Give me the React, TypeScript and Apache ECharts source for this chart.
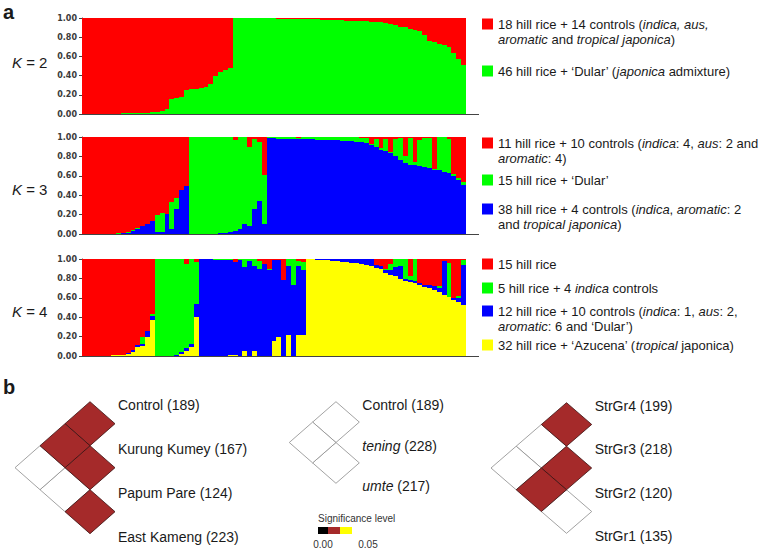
import React, { useEffect, useRef } from 'react';
import * as echarts from 'echarts';

// ---------------- data ----------------
const individuals: string[] = Array.from({ length: 79 }, (_, i) => String(i + 1));
const yTicks = [0, 0.2, 0.4, 0.6, 0.8, 1.0];

// K = 2 (bottom -> top: green, red)
const k2Green = [0, 0, 0, 0, 0,
  0.003, 0.005, 0.005, 0.006, 0.008,
  0.01, 0.01, 0.012, 0.015, 0.02,
  0.025, 0.035, 0.05,
  0.16, 0.165, 0.18,
  0.25, 0.26, 0.26, 0.27, 0.28,
  0.31, 0.40, 0.44, 0.46, 0.48,
  1, 1, 1, 1, 1, 0.998, 0.997,
  0.995, 0.995, 0.993, 0.992, 0.99, 0.99, 0.99, 0.988, 0.987, 0.985, 0.985, 0.983, 0.982, 0.98,
  0.978, 0.975, 0.973, 0.97, 0.97, 0.968, 0.965, 0.962,
  0.96, 0.955, 0.95, 0.94, 0.93,
  0.91, 0.905, 0.89, 0.88, 0.86,
  0.82, 0.76, 0.75, 0.73, 0.72,
  0.70, 0.64, 0.57, 0.51];
const k2Red = [1, 1, 1, 1, 1,
  0.997, 0.995, 0.995, 0.994, 0.992,
  0.99, 0.99, 0.988, 0.985, 0.98,
  0.975, 0.965, 0.95,
  0.84, 0.835, 0.82,
  0.75, 0.74, 0.74, 0.73, 0.72,
  0.69, 0.60, 0.56, 0.54, 0.52,
  0, 0, 0, 0, 0, 0.002, 0.003,
  0.005, 0.005, 0.007, 0.008, 0.01, 0.01, 0.01, 0.012, 0.013, 0.015, 0.015, 0.017, 0.018, 0.02,
  0.022, 0.025, 0.027, 0.03, 0.03, 0.032, 0.035, 0.038,
  0.04, 0.045, 0.05, 0.06, 0.07,
  0.09, 0.095, 0.11, 0.12, 0.14,
  0.18, 0.24, 0.25, 0.27, 0.28,
  0.30, 0.36, 0.43, 0.49];

// K = 3 (bottom -> top: blue, green, red)
const k3Blue = [0, 0, 0, 0, 0, 0, 0, .003, .008, .015, .03, .05, .08, .10, .13, .02, .02, .21, .05, .26, .45, .49,
  .003, .003, .003, .004, .005, .005, .01, .015, .02, .03, .05, .10, .08, .26, .34, .10,
  .986, .985, .983, .982, .981, .98, .98, .979, .978, .976, .974, .972, .969, .967, .964, .961, .958, .955, .95, .945,
  .938, .92, .897, .869, .852, .835, .80, .766, .73, .715, .711, .704, .69, .68, .663, .656, .643, .63, .595, .56, .51];
const k3Green = [0, 0, 0, 0, 0, .005, .005, .005, .005, .005, .01, .01, .005, 0, 0, .18, .20, 0, .28, .11, 0, 0,
  .997, .997, .997, .996, .995, .995, .99, .985, .98, .94, .95, .90, .82, .72, .61, .51,
  .014, .015, .015, .015, .015, .015, .012, .016, .017, .019, .021, .023, .026, .028, .032, .036, .039, .043, .048, .045,
  .052, .01, .083, .021, .128, .015, .18, .224, .07, .275, .029, .266, .30, .31, .007, .344, .357, .35, .025, .02, .03];
const k3Red = [1, 1, 1, 1, 1, .995, .995, .992, .987, .98, .96, .94, .915, .90, .87, .80, .78, .79, .67, .63, .55, .51,
  0, 0, 0, 0, 0, 0, 0, 0, 0, .03, 0, 0, .10, .02, .05, .39,
  0, 0, .002, .003, .004, .005, .008, .005, .005, .005, .005, .005, .005, .005, .004, .003, .003, .002, .002, .01,
  .01, .07, .02, .11, .02, .15, .02, .01, .2, .01, .26, .03, .01, .01, .33, 0, 0, .02, .38, .42, .46];

// K = 4 (bottom -> top: yellow, blue, green, red)
const k4Yellow = [0, 0, 0, 0, 0, .005, .007, .01, .01, .02, .04, .09, .10, .2, .37,
  0, 0, 0, 0, 0, .02, .05, .09, .40,
  0, 0, 0, 0, 0, 0, .01, .015, 0, .055, 0, .05, 0, 0, 0, .15, .2, 0, .22, 0, .22, .22,
  .995, .995, .99, .99, .985, .98, .975, .97, .965, .96, .955, .95, .94, .93,
  .91, .90, .86, .84, .82, .79, .77, .76, .75, .73, .71, .70, .68, .66, .63, .61, .58, .56, .53];
const k4Blue = [0, 0, 0, 0, 0, 0, 0, 0, .005, .01, .02, .02, .02, .06, .04,
  0, 0, .003, .005, .01, .02, .03, .03, .14,
  1, 1, .995, .99, .99, .99, .98, .955, .99, .865, .98, .88, .9, .95, .89, .84, .79, .78, .71, .73, .71, .67,
  .005, .005, .01, .01, .015, .02, .025, .03, .035, .04, .045, .05, .06, .07,
  .03, .03, .03, .05, .10, .14, .02, .02, .02, .02, .02, .03, .04, .04, .35, 0, .02, .04, .41];
const k4Green = [0, 0, 0, 0, 0, 0, 0, 0, 0, 0, 0, 0, .08, 0, .02,
  1, 1, .997, .995, .99, .96, .87, .88, .43,
  0, 0, .005, .01, .01, .01, .01, 0, .01, .08, .02, .07, .08, 0, .01, 0, 0, 0, .07, .27, .05, .08,
  0, 0, 0, 0, 0, 0, 0, 0, 0, 0, 0, 0, 0, 0,
  0, 0, .01, .06, .08, .07, .21, .04, .23, 0, 0, 0, 0, .02, 0, .35, 0, .02, .05];
const k4Red = [1, 1, 1, 1, 1, .995, .993, .99, .985, .97, .94, .89, .80, .74, .57,
  0, 0, 0, 0, 0, 0, .05, 0, .03,
  0, 0, 0, 0, 0, 0, 0, .03, 0, 0, 0, 0, .02, .05, .1, .01, .01, .22, 0, 0, .02, .03,
  0, 0, 0, 0, 0, 0, 0, 0, 0, 0, 0, 0, 0, 0,
  .06, .07, .10, .05, 0, 0, 0, .18, 0, .25, .27, .27, .28, .28, .02, .04, .40, .38, .01];

// legend texts ({i|...} = italic)
const k2Legend = [
  ['18 hill rice + 14 controls ({i|indica, aus,}', '{i|aromatic} and {i|tropical japonica})'],
  ['46 hill rice + \u2018Dular\u2019 ({i|japonica} admixture)'],
];
const k3Legend = [
  ['11 hill rice + 10 controls ({i|indica}: 4, {i|aus}: 2 and', '{i|aromatic}: 4)'],
  ['15 hill rice + \u2018Dular\u2019'],
  ['38 hill rice + 4 controls ({i|indica}, {i|aromatic}: 2', 'and {i|tropical japonica})'],
];
const k4Legend = [
  ['15 hill rice'],
  ['5 hill rice + 4 {i|indica} controls'],
  ['12 hill rice + 10 controls ({i|indica}: 1, {i|aus}: 2,', '{i|aromatic}: 6 and \u2018Dular\u2019)'],
  ['32 hill rice + \u2018Azucena\u2019 ({i|tropical} japonica)'],
];

// pairwise differentiation matrices: [popA, popB, level] ; level 0 = n.s., 2 = significant
const m1Labels = ['Control (189)', 'Kurung Kumey (167)', 'Papum Pare (124)', 'East Kameng (223)'];
const m1Cells = [[0, 1, 2], [1, 2, 2], [2, 3, 2], [0, 2, 2], [1, 3, 0], [0, 3, 0]];
const m2Labels = ['Control (189)', '{i|tening} (228)', '{i|umte} (217)'];
const m2Cells = [[0, 1, 0], [1, 2, 0], [0, 2, 0]];
const m3Labels = ['StrGr4 (199)', 'StrGr3 (218)', 'StrGr2 (120)', 'StrGr1 (135)'];
const m3Cells = [[0, 1, 2], [1, 2, 2], [2, 3, 0], [0, 2, 0], [1, 3, 2], [0, 3, 0]];
const sigScaleLabels = ['0.00', '0.05'];

// ---------------- styles ----------------
const FONT = "'Liberation Sans', Arial, sans-serif";
const RED = '#ff0000', GREEN = '#00ff00', BLUE = '#0000ff', YELLOW = '#ffff00';
const SIG_COLORS = ['#ffffff', '#000000', '#a52a2a', '#ffff00'];

// stacked membership bars drawn through the axes (pixel-snapped so neighbours share edges)
function stackSeries(components: number[][], colors: string[], idx: number) {
  const cum = new Array(individuals.length).fill(0);
  return components.map((vals, k) => {
    const data: number[][] = [];
    vals.forEach((v, i) => {
      if (v > 0) data.push([i, cum[i], cum[i] + v]);
      cum[i] += v;
    });
    const color = colors[k];
    return {
      type: 'custom', xAxisIndex: idx, yAxisIndex: idx, silent: true,
      encode: { x: 0, y: [1, 2] }, data,
      renderItem: (_p: any, api: any) => {
        const i = api.value(0), lo = api.value(1), hi = Math.min(api.value(2), 1);
        const bw = api.size([1, 0])[0];
        const cx = api.coord([i, 0])[0];
        const x0 = Math.round(cx - bw / 2), x1 = Math.round(cx + bw / 2);
        const y0 = Math.round(api.coord([i, hi])[1]), y1 = Math.round(api.coord([i, lo])[1]);
        if (y1 <= y0 || x1 <= x0) return null;
        return { type: 'rect', shape: { x: x0, y: y0, width: x1 - x0, height: y1 - y0 }, style: { fill: color } };
      },
    };
  });
}

function cellSeries(cells: number[][], idx: number) {
  const sorted = [...cells].sort((a, b) => a[2] - b[2]);
  return {
    type: 'custom', xAxisIndex: idx, yAxisIndex: idx, silent: true, clip: false,
    encode: { x: 0, y: 1 },
    data: sorted.map(([i, j, lvl]) => [1 - (j - i), (i + j) / 2, lvl]),
    renderItem: (_p: any, api: any) => {
      const x = api.value(0), y = api.value(1), lvl = api.value(2);
      const pts = [[x + 1, y], [x, y - 0.5], [x - 1, y], [x, y + 0.5]].map(p => api.coord(p));
      return {
        type: 'polygon', shape: { points: pts },
        style: { fill: SIG_COLORS[lvl], stroke: lvl ? '#3a1010' : '#8a8a8a', lineWidth: 0.8 },
      };
    },
  };
}

const structGrids = [
  { left: 82, top: 18, width: 384, height: 96 },
  { left: 82, top: 137, width: 384, height: 97 },
  { left: 82, top: 259, width: 384, height: 97 },
];
const matGrids = [
  { left: 15, top: 401.7, width: 100, height: 132, xmin: -3, ymax: 3 },
  { left: 289.3, top: 401.7, width: 70, height: 81.6, xmin: -2, ymax: 2 },
  { left: 491, top: 402.7, width: 100.7, height: 130.6, xmin: -3, ymax: 3 },
];

function textEl(x: number, y: number, text: string, size: number, extra: any = {}) {
  return {
    type: 'text', x, y, silent: true,
    style: {
      text, fontSize: size, fontFamily: FONT, fill: '#1a1a1a',
      align: 'left', textAlign: 'left', verticalAlign: 'middle', textVerticalAlign: 'middle',
      rich: { i: { fontStyle: 'italic', fontSize: size, fontFamily: FONT, fill: '#1a1a1a', color: '#1a1a1a' } },
      ...extra,
    },
  };
}

function legendEls(entries: string[][], colors: string[], ys: number[]) {
  const out: any[] = [];
  entries.forEach((lines, k) => {
    out.push({ type: 'rect', silent: true, shape: { x: 482, y: ys[k] - 5.5, width: 11, height: 11 }, style: { fill: colors[k] } });
    out.push(textEl(498, ys[k] - 7.5, lines.join('\n'), 13, {
      verticalAlign: 'top', textVerticalAlign: 'top', lineHeight: 15,
      rich: { i: { fontStyle: 'italic', fontSize: 13, fontFamily: FONT, fill: '#1a1a1a', lineHeight: 15 } },
    }));
  });
  return out;
}

export default function App() {
  const ref = useRef<HTMLDivElement>(null);
  useEffect(() => {
    if (!ref.current) return;
    const chart = echarts.init(ref.current, undefined, { renderer: 'svg' });

    const grid: any[] = [
      ...structGrids.map(g => ({ ...g, containLabel: false })),
      ...matGrids.map(g => ({ left: g.left, top: g.top, width: g.width, height: g.height })),
    ];
    const xAxis: any[] = [
      ...structGrids.map((_, i) => ({
        type: 'category', gridIndex: i, data: individuals,
        axisLine: { show: true, lineStyle: { color: '#444', width: 1 } },
        axisTick: { show: false }, axisLabel: { show: false }, splitLine: { show: false },
      })),
      ...matGrids.map((g, i) => ({ type: 'value', gridIndex: 3 + i, min: g.xmin, max: 1, show: false })),
    ];
    const matLabelSets = [m1Labels, m2Labels, m3Labels];
    const yAxis: any[] = [
      ...structGrids.map((_, i) => ({
        type: 'value', gridIndex: i, min: yTicks[0], max: yTicks[yTicks.length - 1], interval: 0.2,
        axisLine: { show: true, lineStyle: { color: '#444', width: 1 } },
        axisTick: { show: true, length: 3, lineStyle: { color: '#444' } },
        splitLine: { show: false },
        axisLabel: {
          formatter: (v: number) => v.toFixed(2), margin: 5, fontSize: 8, fontWeight: 'bold',
          fontFamily: "'DejaVu Sans', sans-serif", color: '#3a3a3a',
        },
      })),
      ...matGrids.map((g, i) => ({
        type: 'value', gridIndex: 3 + i, min: 0, max: g.ymax, interval: 1, inverse: true, position: 'right',
        axisLine: { show: false }, axisTick: { show: false }, splitLine: { show: false },
        axisLabel: {
          formatter: (v: number) => matLabelSets[i][Math.round(v)] ?? '', margin: 3, fontSize: 14,
          fontFamily: FONT, color: '#1a1a1a', padding: [6, 0, 0, 0],
          rich: { i: { fontStyle: 'italic', fontSize: 14, fontFamily: FONT, color: '#1a1a1a' } },
        },
      })),
    ];

    const series: any[] = [
      ...stackSeries([k2Green, k2Red], [GREEN, RED], 0),
      ...stackSeries([k3Blue, k3Green, k3Red], [BLUE, GREEN, RED], 1),
      ...stackSeries([k4Yellow, k4Blue, k4Green, k4Red], [YELLOW, BLUE, GREEN, RED], 2),
      cellSeries(m1Cells, 3), cellSeries(m2Cells, 4), cellSeries(m3Cells, 5),
    ];

    const graphic: any[] = [
      textEl(3, 12, 'a', 20, { fontWeight: 'bold' }),
      textEl(3, 387, 'b', 20, { fontWeight: 'bold' }),
      textEl(12, 62, '{i|K} = 2', 15),
      textEl(12, 189, '{i|K} = 3', 15),
      textEl(12, 311, '{i|K} = 4', 15),
      ...structGrids.map(g => ({
        type: 'line', silent: true,
        shape: { x1: g.left + g.width, y1: g.top + g.height + 0.5, x2: g.left + g.width + 13, y2: g.top + g.height + 0.5 },
        style: { stroke: '#444', lineWidth: 1 },
      })),
      ...legendEls(k2Legend, [RED, GREEN], [24, 71]),
      ...legendEls(k3Legend, [RED, GREEN, BLUE], [143, 180, 209]),
      ...legendEls(k4Legend, [RED, GREEN, BLUE, YELLOW], [264, 288, 311, 345]),
      textEl(318, 518, 'Significance level', 10, { fill: '#333' }),
      { type: 'rect', silent: true, shape: { x: 318, y: 527, width: 10, height: 7 }, style: { fill: SIG_COLORS[1] } },
      { type: 'rect', silent: true, shape: { x: 328, y: 527, width: 12, height: 7 }, style: { fill: SIG_COLORS[2] } },
      { type: 'rect', silent: true, shape: { x: 340, y: 527, width: 12, height: 7 }, style: { fill: SIG_COLORS[3] } },
      textEl(323, 544, sigScaleLabels[0], 10, { fill: '#333', align: 'center', textAlign: 'center' }),
      textEl(368, 544, sigScaleLabels[1], 10, { fill: '#333', align: 'center', textAlign: 'center' }),
    ];

    chart.setOption({
      animation: false,
      backgroundColor: '#ffffff',
      grid, xAxis, yAxis, series, graphic,
    });
    return () => chart.dispose();
  }, []);
  return <div ref={ref} style={{ position: 'absolute', left: 0, top: 0, width: 778, height: 549 }} />;
}
